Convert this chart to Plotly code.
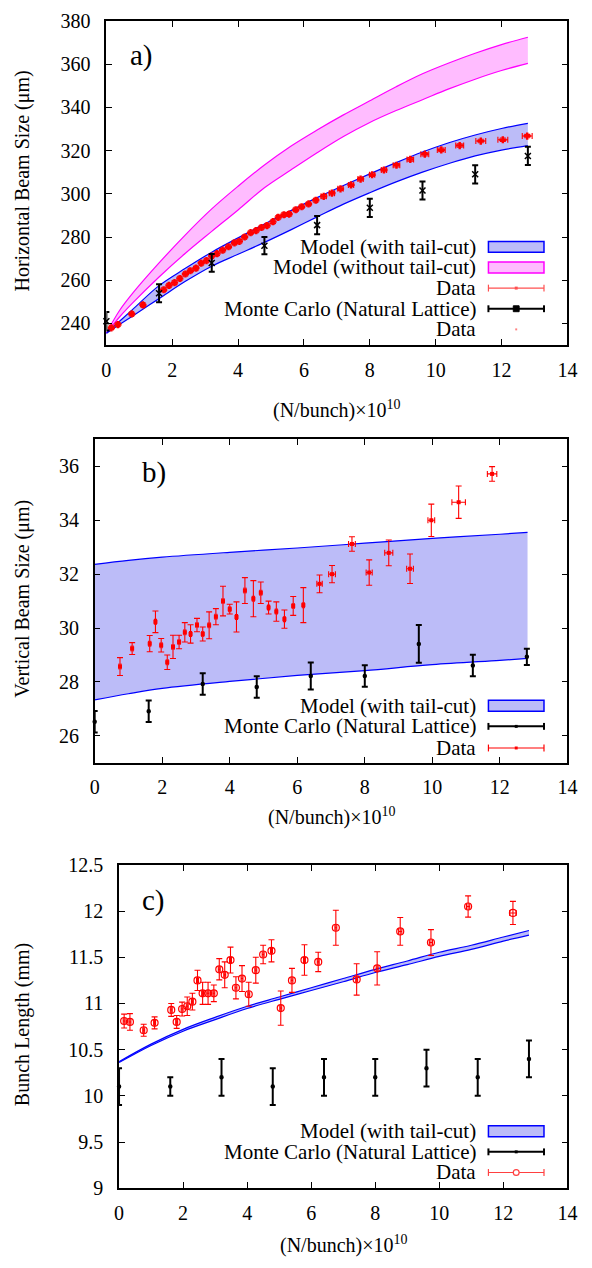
import plotly.graph_objects as go

W, H = 592, 1268
FONT = "Liberation Serif"

# ---------------- data ----------------
# shared Monte Carlo x positions
mc_x = [0, 1.6, 3.2, 4.8, 6.4, 8.0, 9.6, 11.2, 12.8]

# panel a) horizontal beam size (um)
a_band_x = [0, 0.4, 0.8, 1.6, 2.4, 3.2, 4.0, 4.8, 5.6, 6.4, 7.2, 8.0, 8.8, 9.6, 10.4, 11.2, 12.0, 12.8]
a_tc_up = [235.5, 241, 246.5, 257.5, 265.5, 273, 279.6, 286, 292.2, 298.2, 303.8, 309.2, 314.4, 319.3, 323.6, 327.2, 330.2, 332.6]
a_tc_lo = [235.5, 239.5, 243.5, 251.5, 259.5, 266.5, 272, 277.5, 283.3, 289.3, 295.2, 300.5, 305.5, 310, 314, 317.5, 320.2, 322.3]
a_ntc_up = [235.5, 246, 254, 268, 281, 293, 303.5, 313.3, 322, 329.5, 336.5, 343, 349.5, 355.5, 360.5, 365, 369, 372.4]
a_ntc_lo = [235.5, 243, 249.5, 261.5, 272.5, 282.6, 292.5, 302.8, 311, 319, 326.5, 333, 338.5, 343.5, 348.5, 353, 357, 360.3]
a_mc_y = [241, 254, 268, 276, 285.5, 293.5, 301.5, 309, 317.5]
a_mc_err = [4.3, 4.2, 4.1, 4.0, 4.2, 4.2, 4.2, 4.2, 4.2]
a_dat_x = [0.15, 0.35, 0.77, 1.11, 1.74, 1.90, 2.07, 2.23, 2.40, 2.55, 2.72, 2.88, 3.04, 3.20, 3.36, 3.53,
           3.71, 3.89, 4.04, 4.20, 4.38, 4.55, 4.71, 4.88, 5.06, 5.22, 5.39, 5.55, 5.75, 5.93, 6.14, 6.36,
           6.60, 6.85, 7.11, 7.43, 7.72, 8.07, 8.43, 8.81, 9.23, 9.67, 10.17, 10.73, 11.37, 12.04, 12.78]
a_dat_y = [238.0, 239.5, 244.4, 248.6, 255.6, 257.6, 258.9, 260.8, 262.9, 264.4, 265.6, 267.9, 269.1, 271.2,
           272.3, 273.9, 275.5, 277.3, 278.0, 280.0, 282.0, 283.0, 284.4, 285.3, 287.1, 289.1, 290.3, 290.6,
           292.6, 294.0, 295.3, 297.0, 298.8, 300.3, 302.3, 304.1, 306.8, 308.8, 311.0, 313.2, 315.9, 318.3,
           320.3, 322.3, 324.4, 325.0, 326.7]
a_dat_yerr = [0.8, 0.8, 0.8, 0.8, 0.8, 0.8, 0.8, 0.8, 0.8, 0.8, 0.8, 0.8, 0.8, 0.8, 0.8, 0.8,
              0.8, 0.8, 0.8, 0.8, 0.8, 0.8, 0.8, 0.8, 0.8, 0.8, 0.8, 0.8, 0.8, 0.8, 0.8, 0.8,
              0.8, 0.8, 0.8, 0.8, 0.8, 0.8, 0.8, 0.8, 0.8, 0.8, 0.8, 0.8, 0.8, 0.8, 0.8]
a_dat_xerr = [0.05, 0.05, 0.05, 0.05, 0.05, 0.05, 0.05, 0.05, 0.05, 0.05, 0.05, 0.05, 0.05, 0.05, 0.05, 0.05,
              0.05, 0.05, 0.05, 0.05, 0.05, 0.05, 0.05, 0.05, 0.05, 0.05, 0.05, 0.05, 0.05, 0.05, 0.05, 0.05,
              0.08, 0.08, 0.08, 0.08, 0.08, 0.08, 0.08, 0.1, 0.1, 0.12, 0.12, 0.12, 0.15, 0.15, 0.15]

# panel b) vertical beam size (um)
b_band_x = [0, 1, 2, 4, 6, 8, 10, 12, 12.82]
b_tc_up = [32.36, 32.51, 32.63, 32.81, 32.97, 33.15, 33.33, 33.48, 33.55]
b_tc_lo = [27.33, 27.56, 27.76, 28.02, 28.24, 28.42, 28.64, 28.80, 28.87]
b_mc_y = [26.52, 26.91, 27.92, 27.81, 28.22, 28.22, 29.41, 28.61, 28.93]
b_mc_err = [0.4, 0.4, 0.4, 0.4, 0.5, 0.4, 0.7, 0.4, 0.3]
b_dat_x = [0.75, 1.11, 1.63, 1.80, 1.97, 2.15, 2.32, 2.50, 2.67, 2.84, 3.03, 3.20, 3.39, 3.59, 3.80, 4.00,
           4.20, 4.45, 4.70, 4.92, 5.15, 5.38, 5.62, 5.88, 6.18, 6.66, 7.03, 7.62, 8.13, 8.71, 9.34, 9.97,
           10.78, 11.77]
b_dat_y = [28.57, 29.24, 29.42, 30.23, 29.36, 28.73, 29.30, 29.48, 29.84, 29.78, 30.11, 29.78, 30.10, 30.42,
           31.00, 30.70, 30.41, 31.39, 31.09, 31.31, 30.76, 30.61, 30.33, 30.82, 30.85, 31.64, 32.00, 33.12,
           32.06, 32.79, 32.20, 34.00, 34.67, 35.72]
b_dat_yerr = [0.33, 0.22, 0.30, 0.40, 0.25, 0.27, 0.43, 0.25, 0.36, 0.34, 0.25, 0.26, 0.50, 0.30, 0.55, 0.18,
              0.56, 0.48, 0.67, 0.40, 0.24, 0.36, 0.34, 0.35, 0.65, 0.33, 0.32, 0.27, 0.47, 0.48, 0.55, 0.60,
              0.60, 0.27]
b_dat_xerr = [0.03, 0.03, 0.03, 0.03, 0.03, 0.03, 0.03, 0.03, 0.03, 0.03, 0.03, 0.03, 0.03, 0.03, 0.03, 0.03,
              0.03, 0.03, 0.03, 0.03, 0.03, 0.03, 0.03, 0.03, 0.03, 0.08, 0.10, 0.10, 0.09, 0.12, 0.10, 0.10,
              0.20, 0.14]

# panel c) bunch length (mm)
c_band_x = [0, 1, 2, 3, 4, 5, 6, 7, 8, 9, 10, 11, 12, 12.8]
c_tc_up = [10.37, 10.56, 10.72, 10.85, 10.97, 11.07, 11.17, 11.27, 11.37, 11.46, 11.555, 11.63, 11.72, 11.79]
c_tc_lo = [10.36, 10.545, 10.70, 10.825, 10.945, 11.045, 11.14, 11.235, 11.335, 11.42, 11.51, 11.585, 11.675, 11.74]
c_mc_y = [10.1, 10.1, 10.2, 10.1, 10.2, 10.2, 10.3, 10.2, 10.4]
c_mc_err = [0.2, 0.1, 0.2, 0.2, 0.2, 0.2, 0.2, 0.2, 0.2]
c_dat_x = [0.16, 0.34, 0.77, 1.11, 1.63, 1.80, 1.97, 2.13, 2.29, 2.45, 2.61, 2.78, 2.96, 3.13, 3.30, 3.48,
           3.65, 3.84, 4.05, 4.27, 4.50, 4.76, 5.05, 5.40, 5.79, 6.22, 6.77, 7.42, 8.06, 8.78, 9.74, 10.90, 12.30]
c_dat_y = [10.81, 10.80, 10.71, 10.79, 10.93, 10.80, 10.94, 10.97, 11.02, 11.25, 11.11, 11.11, 11.11, 11.37,
           11.31, 11.47, 11.17, 11.27, 11.10, 11.36, 11.53, 11.57, 10.95, 11.25, 11.47, 11.45, 11.82, 11.26,
           11.38, 11.78, 11.66, 12.05, 11.98]
c_dat_yerr = [0.075, 0.09, 0.065, 0.065, 0.07, 0.07, 0.075, 0.10, 0.09, 0.11, 0.12, 0.12, 0.09, 0.115, 0.14,
              0.14, 0.12, 0.14, 0.13, 0.14, 0.10, 0.12, 0.185, 0.13, 0.165, 0.105, 0.19, 0.17, 0.18, 0.15,
              0.14, 0.115, 0.125]
c_dat_xerr = [0.03, 0.03, 0.03, 0.03, 0.03, 0.03, 0.03, 0.03, 0.03, 0.03, 0.03, 0.03, 0.03, 0.03, 0.03, 0.03,
              0.03, 0.03, 0.03, 0.03, 0.03, 0.03, 0.03, 0.03, 0.03, 0.03, 0.03, 0.03, 0.03, 0.05, 0.05, 0.05, 0.10]

# axis ticks / labels
x_ticks = [0, 2, 4, 6, 8, 10, 12, 14]
a_yticks = [240, 260, 280, 300, 320, 340, 360, 380]
b_yticks = [26, 28, 30, 32, 34, 36]
c_yticks = [9, 9.5, 10, 10.5, 11, 11.5, 12, 12.5]
c_yticktext = ["9", "9.5", "10", "10.5", "11", "11.5", "12", "12.5"]

x_title = "(N/bunch)×10<sup>10</sup>"
y_titles = ["Horizontal Beam Size (μm)", "Vertical Beam Size (μm)", "Bunch Length (mm)"]
panel_tags = ["a)", "b)", "c)"]
lab_tc = "Model (with tail-cut)"
lab_ntc = "Model (without tail-cut)"
lab_data = "Data"
lab_mc = "Monte Carlo (Natural Lattice)"

# ---------------- styling ----------------
BLUE_FILL = "#bcbcf8"
PINK_FILL = "#ffbcff"
BLUE = "#0000ff"
MAGENTA = "#ff00ff"
RED = "#ff0000"


def PX(px):
    return px / W


def PY(py):
    return 1 - py / H


# panel frames in pixels: (left, right, top, bottom)
frames = [(104, 577, 10, 340), (92, 577, 436, 765), (117, 577, 869, 1198)]

fig = go.Figure()


def band(xv, lo, up, xa, ya, fill, col):
    fig.add_trace(go.Scatter(x=xv, y=lo, mode="lines", line=dict(color=col, width=1.2, shape="spline"),
                             xaxis=xa, yaxis=ya, showlegend=False, hoverinfo="skip"))
    fig.add_trace(go.Scatter(x=xv, y=up, mode="lines", line=dict(color=col, width=1.2, shape="spline"),
                             fill="tonexty", fillcolor=fill,
                             xaxis=xa, yaxis=ya, showlegend=False, hoverinfo="skip"))


def mc(yv, err, xa, ya, symbol, size, thick, capw):
    fig.add_trace(go.Scatter(x=mc_x, y=yv, mode="markers",
                             marker=dict(symbol=symbol, size=size, color="black",
                                         line=dict(color="black", width=1.5)),
                             error_y=dict(type="data", array=err, color="black", thickness=thick, width=capw),
                             xaxis=xa, yaxis=ya, showlegend=False, cliponaxis=False))


def data(xv, yv, xe, ye, xa, ya, marker):
    fig.add_trace(go.Scatter(x=xv, y=yv, mode="markers", marker=marker,
                             error_y=dict(type="data", array=ye, color=RED, thickness=1.1, width=3),
                             error_x=dict(type="data", array=xe, color=RED, thickness=1.1, width=3),
                             xaxis=xa, yaxis=ya, showlegend=False, cliponaxis=False))


# panel a
band(a_band_x, a_ntc_lo, a_ntc_up, "x", "y", PINK_FILL, MAGENTA)
band(a_band_x, a_tc_lo, a_tc_up, "x", "y", BLUE_FILL, BLUE)
data(a_dat_x, a_dat_y, a_dat_xerr, a_dat_yerr, "x", "y",
     dict(symbol="cross", size=6, color=RED, line=dict(width=0)))
mc(a_mc_y, a_mc_err, "x", "y", "x-thin", 6, 2, 3)

# panel b
band(b_band_x, b_tc_lo, b_tc_up, "x2", "y2", BLUE_FILL, BLUE)
mc(b_mc_y, b_mc_err, "x2", "y2", "circle", 3, 2, 3)
data(b_dat_x, b_dat_y, b_dat_xerr, b_dat_yerr, "x2", "y2",
     dict(symbol="square", size=4, color=RED, line=dict(width=0)))

# panel c
band(c_band_x, c_tc_lo, c_tc_up, "x3", "y3", BLUE_FILL, BLUE)
mc(c_mc_y, c_mc_err, "x3", "y3", "circle", 3, 2, 3)
data(c_dat_x, c_dat_y, c_dat_xerr, c_dat_yerr, "x3", "y3",
     dict(symbol="circle-open", size=7, color=RED, line=dict(color=RED, width=1.2)))

axis_common = dict(showline=True, linecolor="black", linewidth=1.5, mirror="ticks",
                   ticks="inside", ticklen=6, tickwidth=1.2, tickcolor="black",
                   showgrid=False, zeroline=False,
                   tickfont=dict(family=FONT, size=20, color="black"))

yranges = [[230, 380], [25, 37], [9, 12.5]]
yticks = [a_yticks, b_yticks, c_yticks]
layout_axes = {}
for i, (l, r, t, b) in enumerate(frames):
    sfx = "" if i == 0 else str(i + 1)
    layout_axes["xaxis" + sfx] = dict(axis_common, domain=[PX(l), PX(r)], range=[0, 14],
                                      tickvals=x_ticks, anchor="y" + sfx, ticklabelstandoff=6)
    yax = dict(axis_common, domain=[PY(b), PY(t)], range=yranges[i], tickvals=yticks[i],
               anchor="x" + sfx, ticklabelstandoff=10)
    if i == 2:
        yax["ticktext"] = c_yticktext
    layout_axes["yaxis" + sfx] = yax

ann = []
shapes = []
xt_center = [406, 820, 1255]
for i, (l, r, t, b) in enumerate(frames):
    ann.append(dict(text=x_title, xref="paper", yref="paper", x=PX((l + r) / 2), y=PY(xt_center[i]),
                    xanchor="center", yanchor="middle", showarrow=False,
                    font=dict(family=FONT, size=20, color="black")))
    ann.append(dict(text=y_titles[i], xref="paper", yref="paper", x=PX(18), y=PY((t + b) / 2 - 2),
                    xanchor="center", yanchor="middle", textangle=-90, showarrow=False,
                    font=dict(family=FONT, size=20, color="black")))

tag_pos = [(140, 45), (153, 470), (152, 905)]
for i, (tx, ty) in enumerate(tag_pos):
    ann.append(dict(text=panel_tags[i], xref="paper", yref="paper", x=PX(tx), y=PY(ty),
                    xanchor="center", yanchor="middle", showarrow=False,
                    font=dict(family=FONT, size=29, color="black")))

KX0, KX1, TX = 496, 553, 484
KXM = (KX0 + KX1) / 2


def leg_text(txt, y):
    ann.append(dict(text=txt, xref="paper", yref="paper", x=PX(TX), y=PY(y),
                    xanchor="right", yanchor="middle", showarrow=False, borderpad=0,
                    font=dict(family=FONT, size=21, color="black")))


def key_band(y, fill, col):
    shapes.append(dict(type="rect", xref="paper", yref="paper", x0=PX(KX0), x1=PX(KX1),
                       y0=PY(y + 5.5), y1=PY(y - 5.5), fillcolor=fill, line=dict(color=col, width=1.5)))


def key_err(y, col, w, mark):
    shapes.append(dict(type="line", xref="paper", yref="paper", x0=PX(KX0), x1=PX(KX1),
                       y0=PY(y), y1=PY(y), line=dict(color=col, width=w)))
    for xx in (KX0, KX1):
        shapes.append(dict(type="line", xref="paper", yref="paper", x0=PX(xx), x1=PX(xx),
                           y0=PY(y - 3.5), y1=PY(y + 3.5), line=dict(color=col, width=w)))
    if mark == "circle":
        shapes.append(dict(type="circle", xref="paper", yref="paper", x0=PX(KXM - 3), x1=PX(KXM + 3),
                           y0=PY(y + 3), y1=PY(y - 3), fillcolor="white", line=dict(color=col, width=1.2)))
    elif mark == "square":
        shapes.append(dict(type="rect", xref="paper", yref="paper", x0=PX(KXM - 3), x1=PX(KXM + 3),
                           y0=PY(y + 3), y1=PY(y - 3), fillcolor=col, line=dict(color=col, width=1)))
    elif mark == "dot":
        shapes.append(dict(type="rect", xref="paper", yref="paper", x0=PX(KXM - 1.5), x1=PX(KXM + 1.5),
                           y0=PY(y + 1.5), y1=PY(y - 1.5), fillcolor=col, line=dict(color=col, width=0)))


def key_dot(y, col):
    shapes.append(dict(type="rect", xref="paper", yref="paper", x0=PX(KXM - 1), x1=PX(KXM + 1),
                       y0=PY(y + 1), y1=PY(y - 1), fillcolor=col, line=dict(color=col, width=0)))


# legend a
rows_a = [240, 261, 282, 303, 324]
leg_text(lab_tc, rows_a[0]); key_band(rows_a[0], BLUE_FILL, BLUE)
leg_text(lab_ntc, rows_a[1]); key_band(rows_a[1], PINK_FILL, MAGENTA)
leg_text(lab_data, rows_a[2]); key_err(rows_a[2], "#ff5050", 1.2, "dot")
leg_text(lab_mc, rows_a[3]); key_err(rows_a[3], "black", 2, "square")
leg_text(lab_data, rows_a[4]); key_dot(rows_a[4], "#ff8080")

# legend b
rows_b = [707, 728, 750]
leg_text(lab_tc, rows_b[0]); key_band(rows_b[0], BLUE_FILL, BLUE)
leg_text(lab_mc, rows_b[1]); key_err(rows_b[1], "black", 2, "dot")
leg_text(lab_data, rows_b[2]); key_err(rows_b[2], RED, 1.2, "dot")

# legend c
rows_c = [1140, 1161, 1182]
leg_text(lab_tc, rows_c[0]); key_band(rows_c[0], BLUE_FILL, BLUE)
leg_text(lab_mc, rows_c[1]); key_err(rows_c[1], "black", 2, "dot")
leg_text(lab_data, rows_c[2]); key_err(rows_c[2], "#ff4040", 1.2, "circle")

fig.update_layout(width=W, height=H, margin=dict(l=0, r=0, t=0, b=0),
                  paper_bgcolor="white", plot_bgcolor="white", showlegend=False,
                  annotations=ann, shapes=shapes, **layout_axes)

fig.write_html("out.html", config={"displayModeBar": False},
               post_script="document.body.style.margin='0';document.body.style.padding='0';")
